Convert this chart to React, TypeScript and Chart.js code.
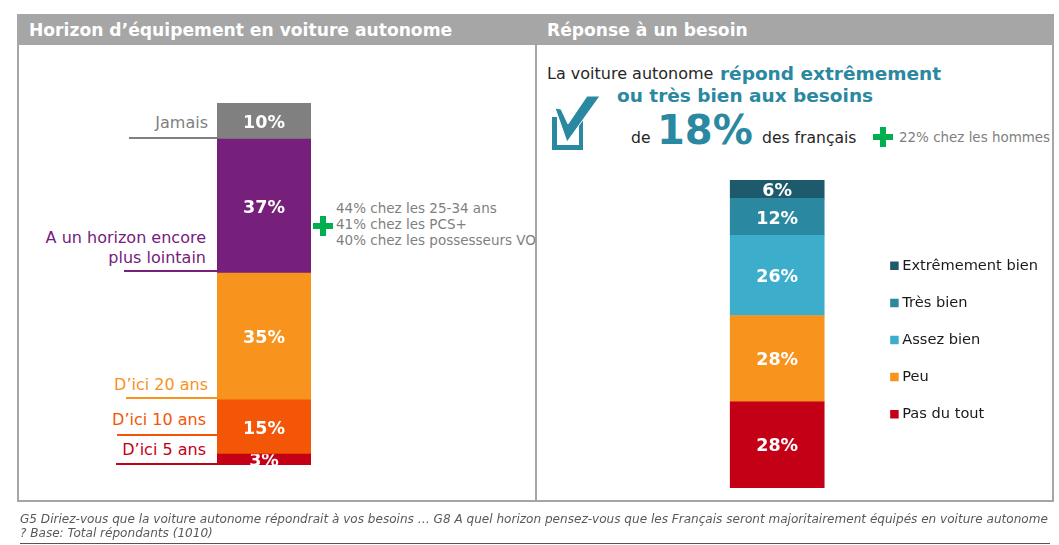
import React, { useEffect, useRef } from "react";
import { Chart, registerables } from "chart.js";

Chart.register(...registerables);

const horizonLabels = ["D’ici 5 ans", "D’ici 10 ans", "D’ici 20 ans", "A un horizon encore plus lointain", "Jamais"];
const horizonValues = [3, 15, 35, 37, 10];
const horizonColors = ["#C40017", "#F25606", "#F8931D", "#76207C", "#808080"];

const besoinLabels = ["Pas du tout", "Peu", "Assez bien", "Très bien", "Extrêmement bien"];
const besoinValues = [28, 28, 26, 12, 6];
const besoinColors = ["#C40017", "#F8931D", "#3CAECB", "#2A88A0", "#1D5A6C"];

const horizonDetails = ["44% chez les 25-34 ans", "41% chez les PCS+", "40% chez les possesseurs VO"];

const FONT = '"DejaVu Sans", Verdana, sans-serif';

const barLabels = {
  id: "barLabels",
  afterLayout(chart: any) {
    if (chart.legend && chart.legend.options.display) {
      chart.legend.top += 6;
      chart.legend.bottom += 6;
    }
  },
  afterDatasetsDraw(chart: any) {
    const { ctx } = chart;
    chart.data.datasets.forEach((ds: any, i: number) => {
      const el = chart.getDatasetMeta(i).data[0];
      const top = Math.min(el.y, el.base);
      const h = Math.abs(el.base - el.y);
      ctx.save();
      ctx.beginPath();
      ctx.rect(el.x - el.width / 2, top, el.width, h);
      ctx.clip();
      ctx.font = `bold 17.5px ${FONT}`;
      ctx.fillStyle = "#ffffff";
      ctx.textAlign = "center";
      ctx.textBaseline = "middle";
      ctx.fillText(`${ds.data[0]}%`, el.x, top + h / 2 + 2);
      ctx.restore();
    });
  },
};

function makeChart(canvas: HTMLCanvasElement, labels: string[], values: number[], colors: string[], options: any) {
  return new Chart(canvas, {
    type: "bar",
    data: {
      labels: [""],
      datasets: labels.map((label, i) => ({
        label,
        data: [values[i]],
        backgroundColor: colors[i],
        borderWidth: 0,
        barThickness: 94,
      })),
    },
    options: {
      animation: false,
      responsive: false,
      devicePixelRatio: 1,
      layout: options.layout,
      scales: {
        x: { stacked: true, display: false },
        y: { stacked: true, display: false, min: 0, max: 100 },
      },
      plugins: { tooltip: { enabled: false }, legend: options.legend },
    },
    plugins: [barLabels],
  });
}

const abs = (left: number, top: number, extra: React.CSSProperties = {}): React.CSSProperties => ({
  position: "absolute",
  left,
  top,
  whiteSpace: "nowrap",
  ...extra,
});

function Callout({ right, top, color, children, lineLeft, lineTop }: any) {
  return (
    <>
      <div style={abs(0, top, { width: right, textAlign: "right", color, fontSize: 16, lineHeight: "20px" })}>{children}</div>
      <div style={abs(lineLeft, lineTop, { width: 217 - lineLeft, height: 2, background: color })} />
    </>
  );
}

function Plus({ left, top }: { left: number; top: number }) {
  return (
    <svg style={abs(left, top)} width="20" height="20" viewBox="0 0 20 20">
      <path d="M7 0h6v7h7v6h-7v7H7v-7H0V7h7z" fill="#00AF50" />
    </svg>
  );
}

export default function App() {
  const leftRef = useRef<HTMLCanvasElement>(null);
  const rightRef = useRef<HTMLCanvasElement>(null);

  useEffect(() => {
    const left = makeChart(leftRef.current!, horizonLabels, horizonValues, horizonColors, {
      layout: { padding: 0 },
      legend: { display: false },
    });
    const right = makeChart(rightRef.current!, besoinLabels, besoinValues, besoinColors, {
      layout: { padding: { left: 33, top: 4, bottom: 26, right: 0 } },
      legend: {
        display: true,
        position: "right",
        reverse: true,
        labels: {
          usePointStyle: true,
          pointStyle: "rect",
          boxWidth: 1,
          boxHeight: 8.5,
          padding: 22.5,
          color: "#1a1a1a",
          font: { family: FONT, size: 14.6 },
        },
      },
    });
    return () => {
      left.destroy();
      right.destroy();
    };
  }, []);

  return (
    <div style={{ position: "fixed", left: 0, top: 0, width: 1059, height: 545, background: "#fff", fontFamily: FONT, overflow: "hidden" }}>
      {/* frame */}
      <div style={abs(17, 14, { width: 1037, height: 31, background: "#A6A6A6" })} />
      <div style={abs(17, 14, { width: 2, height: 488, background: "#A6A6A6" })} />
      <div style={abs(535, 14, { width: 2, height: 488, background: "#A6A6A6" })} />
      <div style={abs(1052, 14, { width: 2, height: 488, background: "#A6A6A6" })} />
      <div style={abs(17, 500, { width: 1037, height: 2, background: "#A6A6A6" })} />
      <div style={abs(29, 18, { color: "#fff", fontWeight: "bold", fontSize: 17.15, lineHeight: "24px" })}>Horizon d’équipement en voiture autonome</div>
      <div style={abs(547, 18, { color: "#fff", fontWeight: "bold", fontSize: 17.15, lineHeight: "24px" })}>Réponse à un besoin</div>

      {/* charts */}
      <canvas ref={leftRef} width={94} height={362} style={abs(217, 103, { display: "block" })} />
      <canvas ref={rightRef} width={398} height={338} style={abs(650, 176, { display: "block" })} />

      {/* left callouts */}
      <Callout right={208} top={113} color="#808080" lineLeft={129} lineTop={137}>{horizonLabels[4]}</Callout>
      <Callout right={206} top={228} color="#76207C" lineLeft={124} lineTop={270}>A un horizon encore<br />plus lointain</Callout>
      <Callout right={208} top={375} color="#F8931D" lineLeft={126} lineTop={397}>{horizonLabels[2]}</Callout>
      <Callout right={206} top={410} color="#F25606" lineLeft={117} lineTop={434}>{horizonLabels[1]}</Callout>
      <Callout right={206} top={440} color="#C40017" lineLeft={116} lineTop={463}>{horizonLabels[0]}</Callout>

      <Plus left={313} top={216} />
      <div style={abs(336, 200, { color: "#7F7F7F", fontSize: 13.5, lineHeight: "16px" })}>
        {horizonDetails.map((d) => <div key={d}>{d}</div>)}
      </div>

      {/* right header block */}
      <div style={abs(547, 62, { color: "#262626", fontSize: 16, lineHeight: "24px" })}>La voiture autonome</div>
      <div style={abs(720, 62, { color: "#2A88A0", fontWeight: "bold", fontSize: 18.5, lineHeight: "24px" })}>répond extrêmement</div>
      <div style={abs(617, 84, { color: "#2A88A0", fontWeight: "bold", fontSize: 18.5, lineHeight: "24px" })}>ou très bien aux besoins</div>
      <div style={abs(631, 127, { color: "#262626", fontSize: 15.6, lineHeight: "22px" })}>de</div>
      <div style={abs(657, 107, { color: "#2A88A0", fontWeight: "bold", fontSize: 40, lineHeight: "46px" })}>18%</div>
      <div style={abs(762, 127, { color: "#262626", fontSize: 15.6, lineHeight: "22px" })}>des français</div>
      <Plus left={873} top={127} />
      <div style={abs(899, 128, { color: "#7F7F7F", fontSize: 13.45, lineHeight: "20px" })}>22% chez les hommes</div>
      <svg style={abs(550, 94)} width="52" height="58" viewBox="550 94 52 58">
        <path d="M552 117 H557 V145 H579 V122 H572 V117 H583 V150 H552 Z" fill="#2A88A0" />
        <path d="M555 108 L567 142 L600 96 L587 96 L568 124 L561 109 Z" fill="#2A88A0" stroke="#fff" strokeWidth="1" />
      </svg>

      {/* footer */}
      <div style={abs(20, 512, { color: "#595959", fontStyle: "italic", fontSize: 12.07, lineHeight: "14px" })}>
        G5 Diriez-vous que la voiture autonome répondrait à vos besoins … G8 A quel horizon pensez-vous que les Français seront majoritairement équipés en voiture autonome<br />? Base: Total répondants (1010)
      </div>
      <div style={abs(20, 543, { width: 1030, height: 1, background: "#555" })} />
    </div>
  );
}
